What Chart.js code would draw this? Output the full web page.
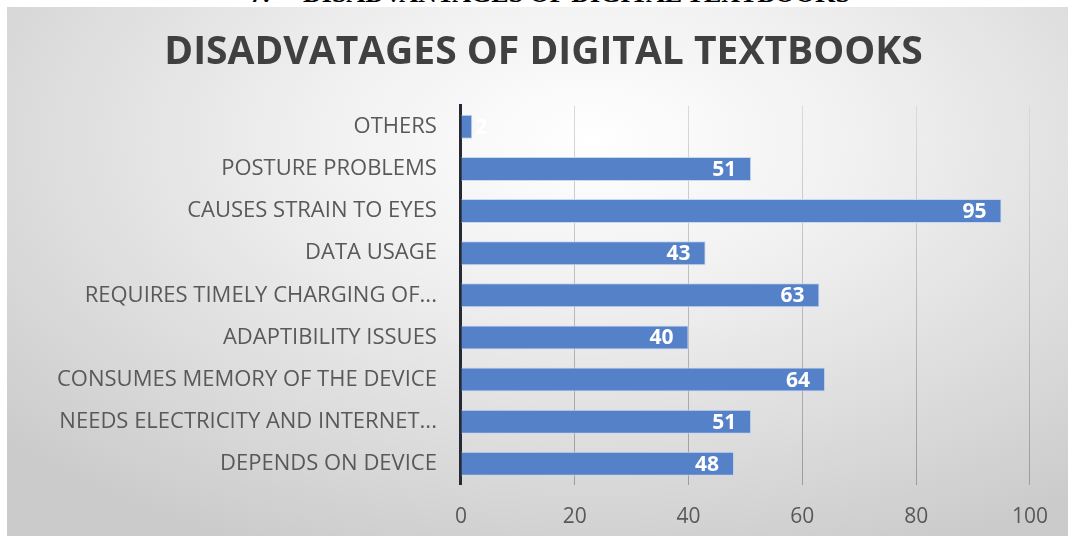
<!DOCTYPE html>
<html>
<head>
<meta charset="utf-8">
<script src="https://cdn.jsdelivr.net/npm/chart.js@4.4.1/dist/chart.umd.min.js"></script>
<style>
    html, body { margin: 0; padding: 0; background: #fff; width: 1068px; height: 536px; overflow: hidden; }
    #strip { position: absolute; left: 0; top: 0; width: 1068px; height: 7px; overflow: hidden; }
    #strip span { position: absolute; top: -21px; font-family: "Liberation Serif", serif; font-weight: bold; font-size: 26px; color: #000; white-space: pre; }
    #box {
        position: absolute; left: 7px; top: 7px; width: 1061px; height: 529px;
        background: radial-gradient(ellipse 75% 85% at 55% 25%, #ffffff 0%, #f0f0f0 35%, #dcdcdc 70%, #cbcbcb 100%);
    }
    canvas { display: block; }
</style>
</head>
<body>
<div id="strip"><span style="left:250px">7.</span><span style="left:303px">DISADVANTAGES OF DIGITAL TEXTBOOKS</span></div>
<div id="box"><canvas id="chart" width="1061" height="529"></canvas></div>
<script>
const categories = [
    'OTHERS',
    'POSTURE PROBLEMS',
    'CAUSES STRAIN TO EYES',
    'DATA USAGE',
    'REQUIRES TIMELY CHARGING OF...',
    'ADAPTIBILITY ISSUES',
    'CONSUMES MEMORY OF THE DEVICE',
    'NEEDS ELECTRICITY AND INTERNET...',
    'DEPENDS ON DEVICE'
];
const values = [2, 51, 95, 43, 63, 40, 64, 51, 48];
const xTicks = [0, 20, 40, 60, 80, 100];

const FONT = '"Open Sans", Lato, sans-serif';

// etiquetas blancas al final de cada barra
const barLabels = {
    id: 'barLabels',
    afterDatasetsDraw(chart) {
        const ctx = chart.ctx;
        const meta = chart.getDatasetMeta(0);
        ctx.save();
        ctx.font = 'bold 21px ' + FONT;
        ctx.fillStyle = '#ffffff';
        ctx.textBaseline = 'middle';
        meta.data.forEach((bar, i) => {
            const w = bar.x - bar.base;
            if (w < 30) {
                ctx.textAlign = 'left';
                ctx.fillText(values[i], bar.x + 3, bar.y + 1);
            } else {
                ctx.textAlign = 'right';
                ctx.fillText(values[i], bar.x - 15, bar.y + 1);
            }
        });
        ctx.restore();
    }
};

// rejilla más oscura hacia abajo, como en la imagen
function gridColor(context) {
    const area = context.chart.chartArea;
    if (!area) return '#c4c4c4';
    const g = context.chart.ctx.createLinearGradient(0, area.top, 0, area.bottom);
    g.addColorStop(0, '#dadada');
    g.addColorStop(1, '#9c9c9c');
    return g;
}

new Chart(document.getElementById('chart'), {
    type: 'bar',
    data: {
        labels: categories,
        datasets: [{
            data: values,
            backgroundColor: '#5581c9',
            borderColor: '#c9d7ef',
            borderWidth: 1,
            borderSkipped: 'start',
            barPercentage: 0.57,
            categoryPercentage: 1
        }]
    },
    options: {
        indexAxis: 'y',
        responsive: false,
        animation: false,
        layout: { padding: { left: 34, right: 22, top: 14, bottom: -14 } },
        plugins: {
            legend: { display: false },
            tooltip: { enabled: false },
            title: {
                display: true,
                text: 'DISADVATAGES OF DIGITAL TEXTBOOKS',
                color: '#404040',
                font: { family: FONT, size: 39, weight: 'bold' },
                padding: { top: 8, bottom: 30 }
            }
        },
        scales: {
            x: {
                min: 0,
                max: 100,
                afterBuildTicks: axis => { axis.ticks = xTicks.map(v => ({ value: v })); },
                grid: { color: gridColor, lineWidth: 1, drawTicks: false },
                border: { display: false },
                ticks: { color: '#595959', padding: 20, maxRotation: 0, font: { family: FONT, size: 21 } }
            },
            y: {
                grid: { display: false },
                border: { display: true, color: '#262a33', width: 3 },
                ticks: { color: '#595959', padding: 16, font: { family: FONT, size: 22 } }
            }
        }
    },
    plugins: [barLabels]
});
</script>
</body>
</html>
